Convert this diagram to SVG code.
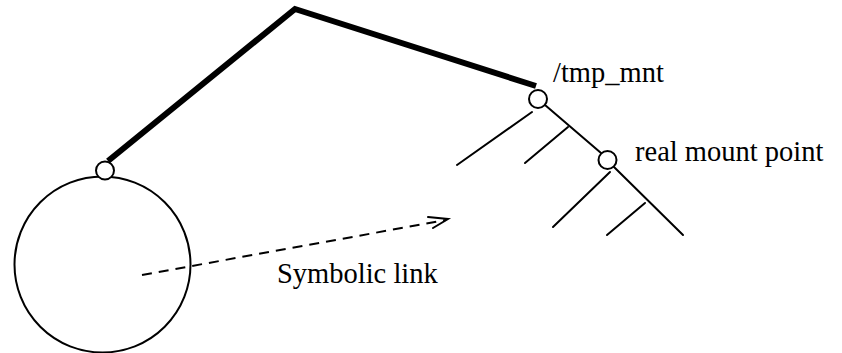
<svg xmlns="http://www.w3.org/2000/svg" width="842" height="353" viewBox="0 0 842 353">
  <style>
    .thin { fill: none; stroke: #000; stroke-width: 2; stroke-linecap: round; }
    .thick { fill: none; stroke: #000; stroke-width: 6; stroke-linejoin: miter; stroke-linecap: butt; }
    .node { fill: #fff; stroke: #000; stroke-width: 2; }
    .dash { fill: none; stroke: #000; stroke-width: 2; stroke-dasharray: 10 7; }
    .label { font-family: "Liberation Serif", "Times New Roman", serif; font-size: 28.5px; fill: #000; }
  </style>
  <rect width="842" height="353" fill="#fff"/>

  <g id="connectors">
    <!-- heavy link from the local directory up and over to /tmp_mnt -->
    <polyline class="thick" points="108,161 295,9 536,86"/>
    <!-- mounted tree -->
    <line class="thin" x1="545" y1="105" x2="601" y2="153"/>
    <line class="thin" x1="614" y1="167" x2="683" y2="235"/>
    <line class="thin" x1="532" y1="112" x2="457" y2="165"/>
    <line class="thin" x1="568" y1="127" x2="525" y2="163"/>
    <line class="thin" x1="610" y1="172" x2="553" y2="227"/>
    <line class="thin" x1="645" y1="203" x2="607" y2="235"/>
    <!-- symbolic link -->
    <line class="dash" x1="142" y1="275" x2="446" y2="220"/>
    <polyline class="thin" points="428,217 448,219 433,228"/>
  </g>

  <g id="local-dir">
    <circle cx="102.5" cy="264.5" r="88" fill="none" stroke="#000" stroke-width="2"/>
  </g>
  <g id="link-point">
    <circle class="node" cx="105" cy="170.5" r="9"/>
  </g>
  <g id="tmp-mnt">
    <circle class="node" cx="538" cy="99" r="9"/>
    <text class="label" x="553" y="82">/tmp_mnt</text>
  </g>
  <g id="real-mount-point">
    <circle class="node" cx="607.5" cy="160" r="9"/>
    <text class="label" x="635" y="161">real mount point</text>
  </g>
  <g id="symlink-label">
    <text class="label" x="277" y="283">Symbolic link</text>
  </g>
</svg>
